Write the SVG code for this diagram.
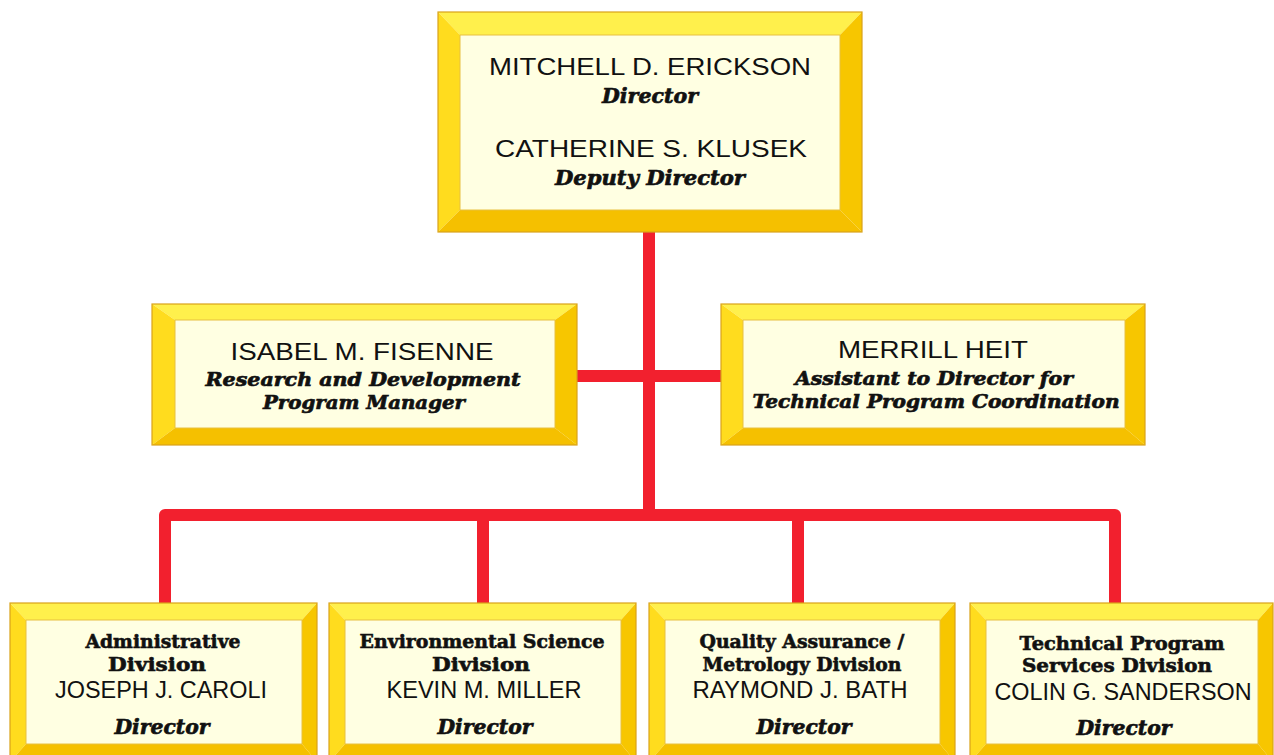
<svg xmlns="http://www.w3.org/2000/svg" width="1274" height="755" viewBox="0 0 1274 755">
<style>
.bt{fill:#fff04c}
.bl{fill:#ffdc1e}
.br{fill:#f7c600}
.bb{fill:#f5c000}
.face{fill:#ffffe2;stroke:#e8c040;stroke-width:1}
.edge{fill:none;stroke:#d9a21a;stroke-width:1.2}
.name{font-family:"Liberation Sans",Arial,sans-serif;font-size:24px;fill:#111;text-anchor:middle}
.title{font-family:"DejaVu Serif",serif;font-weight:bold;font-style:italic;font-size:21px;fill:#111;stroke:#111;stroke-width:0.7;text-anchor:middle}
.t2{font-size:19px}
.div{font-family:"DejaVu Serif",serif;font-weight:bold;font-size:19px;fill:#111;stroke:#111;stroke-width:0.6;text-anchor:middle}
.conn{fill:none;stroke:#f2202e;stroke-width:12;stroke-linejoin:round}
</style>
<rect width="1274" height="755" fill="#ffffff"/>
<g id="connectors">
<path class="conn" d="M649,232 V515"/>
<path class="conn" d="M577,376 H721"/>
<path class="conn" d="M165,603 V515 H1115 V603"/>
<path class="conn" d="M483,515 V603"/>
<path class="conn" d="M798,515 V603"/>
</g>
<g id="director">
<polygon class="bt" points="438,12 862,12 840,35 460,35"/>
<polygon class="bl" points="438,12 460,35 460,210 438,232"/>
<polygon class="br" points="862,12 862,232 840,210 840,35"/>
<polygon class="bb" points="438,232 460,210 840,210 862,232"/>
<rect class="face" x="460" y="35" width="380" height="175"/>
<rect class="edge" x="438" y="12" width="424" height="220"/>
<text class="name" x="650" y="75" textLength="322" lengthAdjust="spacingAndGlyphs">MITCHELL D. ERICKSON</text>
<text class="title" x="650" y="103" textLength="96" lengthAdjust="spacingAndGlyphs">Director</text>
<text class="name" x="651" y="157" textLength="312" lengthAdjust="spacingAndGlyphs">CATHERINE S. KLUSEK</text>
<text class="title" x="650" y="185" textLength="190" lengthAdjust="spacingAndGlyphs">Deputy Director</text>
</g>
<g id="fisenne">
<polygon class="bt" points="152,304 577,304 555,320 175,320"/>
<polygon class="bl" points="152,304 175,320 175,428 152,445"/>
<polygon class="br" points="577,304 577,445 555,428 555,320"/>
<polygon class="bb" points="152,445 175,428 555,428 577,445"/>
<rect class="face" x="175" y="320" width="380" height="108"/>
<rect class="edge" x="152" y="304" width="425" height="141"/>
<text class="name" x="362" y="360" textLength="263" lengthAdjust="spacingAndGlyphs">ISABEL M. FISENNE</text>
<text class="title t2" x="363" y="386" textLength="315" lengthAdjust="spacingAndGlyphs">Research and Development</text>
<text class="title t2" x="364" y="409" textLength="202" lengthAdjust="spacingAndGlyphs">Program Manager</text>
</g>
<g id="heit">
<polygon class="bt" points="721,304 1145,304 1125,320 743,320"/>
<polygon class="bl" points="721,304 743,320 743,428 721,445"/>
<polygon class="br" points="1145,304 1145,445 1125,428 1125,320"/>
<polygon class="bb" points="721,445 743,428 1125,428 1145,445"/>
<rect class="face" x="743" y="320" width="382" height="108"/>
<rect class="edge" x="721" y="304" width="424" height="141"/>
<text class="name" x="933" y="358" textLength="190" lengthAdjust="spacingAndGlyphs">MERRILL HEIT</text>
<text class="title t2" x="934" y="385" textLength="278" lengthAdjust="spacingAndGlyphs">Assistant to Director for</text>
<text class="title t2" x="936" y="408" textLength="367" lengthAdjust="spacingAndGlyphs">Technical Program Coordination</text>
</g>
<g id="admin">
<polygon class="bt" points="10,603 317,603 302,620 26,620"/>
<polygon class="bl" points="10,603 26,620 26,744 10,762"/>
<polygon class="br" points="317,603 317,762 302,744 302,620"/>
<polygon class="bb" points="10,762 26,744 302,744 317,762"/>
<rect class="face" x="26" y="620" width="276" height="124"/>
<rect class="edge" x="10" y="603" width="307" height="159"/>
<text class="div" x="163" y="648" textLength="155" lengthAdjust="spacingAndGlyphs">Administrative</text>
<text class="div" x="157" y="671" textLength="98" lengthAdjust="spacingAndGlyphs">Division</text>
<text class="name" x="161" y="698" font-size="22" textLength="212" lengthAdjust="spacingAndGlyphs">JOSEPH J. CAROLI</text>
<text class="title" x="162" y="734" textLength="95" lengthAdjust="spacingAndGlyphs">Director</text>
</g>
<g id="envsci">
<polygon class="bt" points="329,603 636,603 621,620 345,620"/>
<polygon class="bl" points="329,603 345,620 345,744 329,762"/>
<polygon class="br" points="636,603 636,762 621,744 621,620"/>
<polygon class="bb" points="329,762 345,744 621,744 636,762"/>
<rect class="face" x="345" y="620" width="276" height="124"/>
<rect class="edge" x="329" y="603" width="307" height="159"/>
<text class="div" x="482" y="648" textLength="245" lengthAdjust="spacingAndGlyphs">Environmental Science</text>
<text class="div" x="481" y="671" textLength="98" lengthAdjust="spacingAndGlyphs">Division</text>
<text class="name" x="484" y="698" font-size="22" textLength="195" lengthAdjust="spacingAndGlyphs">KEVIN M. MILLER</text>
<text class="title" x="485" y="734" textLength="95" lengthAdjust="spacingAndGlyphs">Director</text>
</g>
<g id="qa">
<polygon class="bt" points="649,603 955,603 940,620 665,620"/>
<polygon class="bl" points="649,603 665,620 665,744 649,762"/>
<polygon class="br" points="955,603 955,762 940,744 940,620"/>
<polygon class="bb" points="649,762 665,744 940,744 955,762"/>
<rect class="face" x="665" y="620" width="275" height="124"/>
<rect class="edge" x="649" y="603" width="306" height="159"/>
<text class="div" x="802" y="648" textLength="205" lengthAdjust="spacingAndGlyphs">Quality Assurance /</text>
<text class="div" x="802" y="671" textLength="199" lengthAdjust="spacingAndGlyphs">Metrology Division</text>
<text class="name" x="800" y="698" font-size="22" textLength="215" lengthAdjust="spacingAndGlyphs">RAYMOND J. BATH</text>
<text class="title" x="804" y="734" textLength="95" lengthAdjust="spacingAndGlyphs">Director</text>
</g>
<g id="tps">
<polygon class="bt" points="970,603 1273,603 1258,620 986,620"/>
<polygon class="bl" points="970,603 986,620 986,744 970,762"/>
<polygon class="br" points="1273,603 1273,762 1258,744 1258,620"/>
<polygon class="bb" points="970,762 986,744 1258,744 1273,762"/>
<rect class="face" x="986" y="620" width="272" height="124"/>
<rect class="edge" x="970" y="603" width="303" height="159"/>
<text class="div" x="1122" y="650" textLength="205" lengthAdjust="spacingAndGlyphs">Technical Program</text>
<text class="div" x="1117" y="672" textLength="190" lengthAdjust="spacingAndGlyphs">Services Division</text>
<text class="name" x="1123" y="700" font-size="22" textLength="257" lengthAdjust="spacingAndGlyphs">COLIN G. SANDERSON</text>
<text class="title" x="1124" y="735" textLength="95" lengthAdjust="spacingAndGlyphs">Director</text>
</g>
</svg>
